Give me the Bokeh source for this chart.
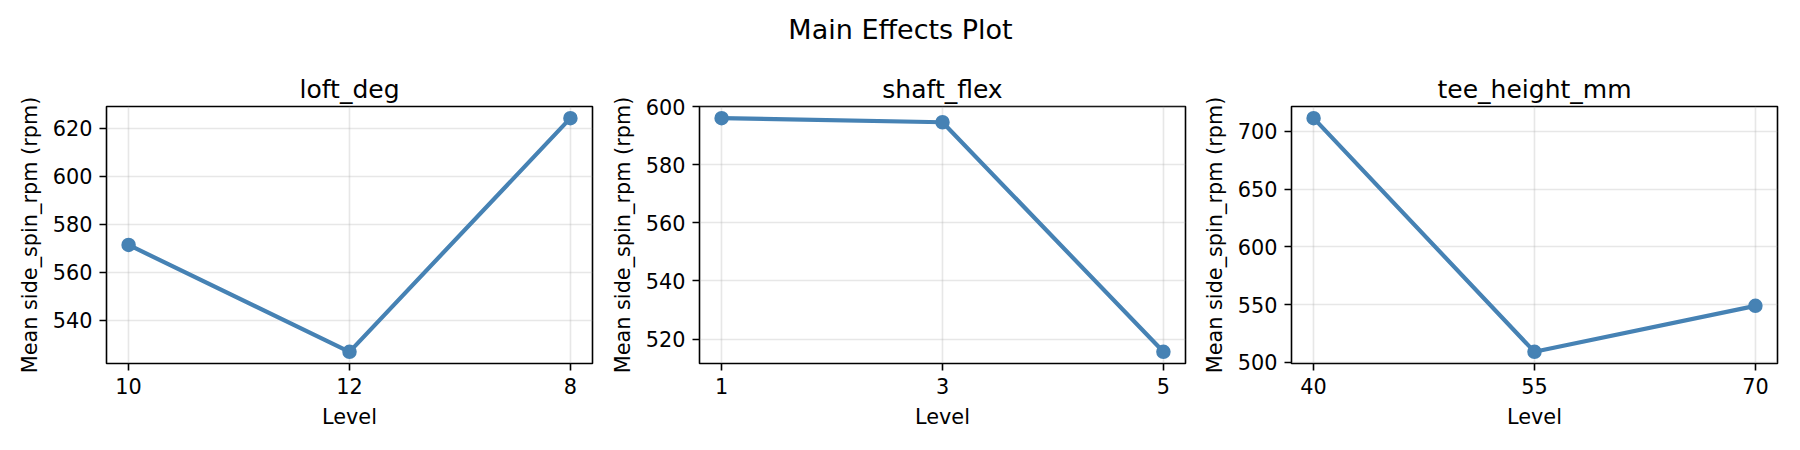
from bokeh.plotting import figure
from bokeh.layouts import row, column
from bokeh.models import Range1d, FixedTicker, ColumnDataSource
from bokeh.embed import file_html
from bokeh.resources import INLINE
from bokeh.core.properties import value

# ---- data ----
suptitle = "Main Effects Plot"
y_label = "Mean side_spin_rpm (rpm)"
x_label = "Level"

factor_names = ["loft_deg", "shaft_flex", "tee_height_mm"]
loft_levels = ["10", "12", "8"]
loft_means = [571.4, 526.8, 624.3]
shaft_levels = ["1", "3", "5"]
shaft_means = [596.0, 594.6, 515.6]
tee_levels = ["40", "55", "70"]
tee_means = [711.5, 509.2, 549.0]
loft_yticks = [540, 560, 580, 600, 620]
shaft_yticks = [520, 540, 560, 580, 600]
tee_yticks = [500, 550, 600, 650, 700]

# ---- style / layout ----
FONT = "DejaVu Sans"
COLOR = "#4682b4"
TOTAL_W = 1800
TITLE_H = 50
PANEL_H = 400
FRAME_W = 486
BORDER_TOP = 56
BORDER_BOTTOM = 87


def make_panel(name, levels, means, yticks, left, right):
    xs = list(range(len(levels)))
    xspan = xs[-1] - xs[0]
    lo, hi = min(means), max(means)
    pad = 0.05 * (hi - lo)
    src = ColumnDataSource(dict(x=xs, level=levels, mean=means))
    p = figure(width=left + FRAME_W + right, height=PANEL_H,
               output_backend="svg", toolbar_location=None,
               x_range=Range1d(xs[0] - 0.05 * xspan, xs[-1] + 0.05 * xspan),
               y_range=Range1d(lo - pad, hi + pad),
               min_border_left=left, min_border_right=right,
               min_border_top=BORDER_TOP, min_border_bottom=BORDER_BOTTOM,
               title=name)
    p.title.align = "center"
    p.title.text_font = FONT
    p.title.text_font_size = "25px"
    p.title.text_font_style = "normal"
    p.title.text_color = "black"
    p.title.standoff = 6

    p.xaxis.ticker = FixedTicker(ticks=xs)
    p.xaxis.major_label_overrides = {x: lab for x, lab in zip(xs, levels)}
    p.yaxis.ticker = FixedTicker(ticks=yticks)
    p.xgrid.ticker = p.xaxis.ticker
    p.ygrid.ticker = p.yaxis.ticker

    p.xaxis.axis_label = x_label
    p.yaxis.axis_label = y_label
    for ax in (p.xaxis, p.yaxis):
        ax.axis_label_text_font = FONT
        ax.axis_label_text_font_size = "20.8px"
        ax.axis_label_text_font_style = "normal"
        ax.axis_label_text_color = "black"
        ax.major_label_text_font = FONT
        ax.major_label_text_font_size = "20.8px"
        ax.major_label_text_color = "black"
        ax.major_label_standoff = 7
        ax.major_tick_out = 7
        ax.major_tick_in = 0
        ax.major_tick_line_color = "black"
        ax.major_tick_line_width = 1.6
        ax.minor_tick_line_color = None
        ax.axis_line_color = None
    p.xaxis.axis_label_standoff = 8
    p.yaxis.axis_label_standoff = 8

    p.grid.grid_line_color = "#b0b0b0"
    p.grid.grid_line_alpha = 0.3
    p.grid.grid_line_width = 1.6
    p.outline_line_color = "black"
    p.outline_line_width = 1.6
    p.outline_line_alpha = 1.0

    p.line("x", "mean", source=src, line_color=COLOR, line_width=4.2)
    p.scatter("x", "mean", source=src, size=12.5, fill_color=COLOR,
              line_color=COLOR, line_width=2)
    return p


p1 = make_panel(factor_names[0], loft_levels, loft_means, loft_yticks, 106, 10)
p2 = make_panel(factor_names[1], shaft_levels, shaft_means, shaft_yticks, 97, 10)
p3 = make_panel(factor_names[2], tee_levels, tee_means, tee_yticks, 96, 23)

t = figure(width=TOTAL_W, height=TITLE_H, output_backend="svg",
           toolbar_location=None, x_axis_type=None, y_axis_type=None,
           x_range=Range1d(0, TOTAL_W), y_range=Range1d(0, TITLE_H),
           min_border=0)
t.outline_line_color = None
t.text(x=[TOTAL_W / 2], y=[TITLE_H - 29.3], text=[suptitle],
       text_font=value(FONT), text_font_size="27px",
       text_align="center", text_baseline="alphabetic", text_color="black")

layout = column(t, row(p1, p2, p3))
open("out.html", "w").write(file_html(layout, INLINE))
